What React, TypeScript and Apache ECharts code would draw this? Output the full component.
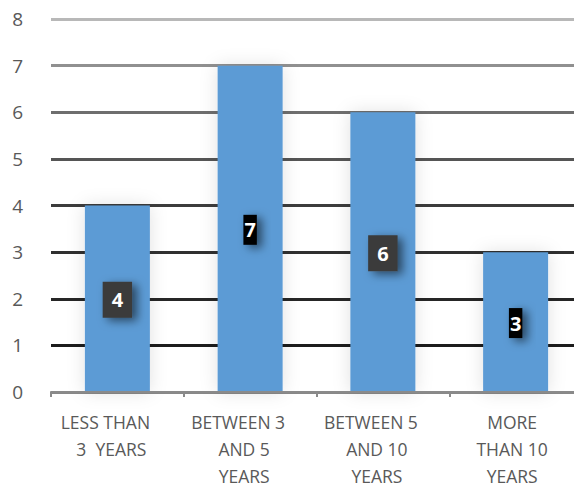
import React, { useEffect, useRef } from "react";
import * as echarts from "echarts";

const categories = [
  "LESS THAN\n3  YEARS",
  "BETWEEN 3\nAND 5\nYEARS",
  "BETWEEN 5\nAND 10\nYEARS",
  "MORE\nTHAN 10\nYEARS",
];
const values = [4, 7, 6, 3];
const yTicks = [0, 1, 2, 3, 4, 5, 6, 7, 8];
const gridColors = ["#888888", "#1c1c1c", "#262626", "#303030", "#3c3c3c", "#555555", "#6e6e6e", "#909090", "#b8b8b8"];
const narrowLabel = [false, true, false, true];
const shiftFirstLine = [true, true, true, false];

export default function App() {
  const ref = useRef<HTMLDivElement>(null);
  useEffect(() => {
    if (!ref.current) return;
    const chart = echarts.init(ref.current, undefined, { renderer: "svg" });
    const lbl = {
      color: "#595959",
      fontSize: 17.5,
      fontFamily: "'Open Sans', sans-serif",
      lineHeight: 27,
    };
    chart.setOption({
      animation: false,
      backgroundColor: "#ffffff",
      grid: { left: 51, right: 0, top: 19, bottom: 92, containLabel: false },
      xAxis: {
        type: "category",
        data: categories,
        axisLine: { show: true, lineStyle: { color: "#8a8a8a", width: 2 } },
        axisTick: { show: true, length: 5, lineStyle: { color: "#8a8a8a", width: 2 } },
        axisLabel: {
          ...lbl,
          margin: 16,
          interval: 0,
          formatter: (v: string, idx: number) => {
            const lines = v.split("\n");
            return lines
              .map((l, i) => {
                if (!shiftFirstLine[idx]) return `{d|${l}}`;
                return i === 0 ? `{a|${l}}` : `{b|${l}}`;
              })
              .join("\n");
          },
          rich: {
            a: { ...lbl, padding: [0, 24, 0, 0] },
            b: { ...lbl, padding: [0, 12, 0, 0] },
            d: { ...lbl, padding: [0, 7, 0, 0] },
          },
        },
        z: 5,
      },
      yAxis: {
        type: "value",
        min: yTicks[0],
        max: yTicks[yTicks.length - 1],
        interval: 1,
        axisLine: { show: false },
        axisTick: { show: false },
        axisLabel: {
          color: "#595959",
          fontSize: 19,
          fontFamily: "'Open Sans', sans-serif",
          margin: 28,
        },
        splitLine: { show: true, lineStyle: { color: gridColors, width: 3 } },
      },
      series: [
        {
          type: "bar",
          data: values.map((v, i) => ({
            value: v,
            label: narrowLabel[i]
              ? { backgroundColor: "#000000", padding: [6, 1, 4, 1] }
              : { backgroundColor: "#3a3a3a", padding: [9, 9, 7, 9] },
          })),
          barWidth: 65,
          itemStyle: {
            color: "#5b9bd5",
            shadowColor: "rgba(0,0,0,0.12)",
            shadowBlur: 18,
          },
          label: {
            show: true,
            position: "inside",
            offset: [0, 1],
            color: "#ffffff",
            fontWeight: "bold",
            fontSize: 20,
            fontFamily: "'Open Sans', sans-serif",
            shadowColor: "rgba(0,0,0,0.55)",
            shadowBlur: 10,
            shadowOffsetX: 5,
            shadowOffsetY: 3,
          },
        },
      ],
    });
    return () => chart.dispose();
  }, []);
  return (
    <div style={{ width: 574, height: 489, position: "absolute", left: 0, top: 0, overflow: "hidden" }}>
      <div ref={ref} style={{ width: 582, height: 489 }} />
    </div>
  );
}
